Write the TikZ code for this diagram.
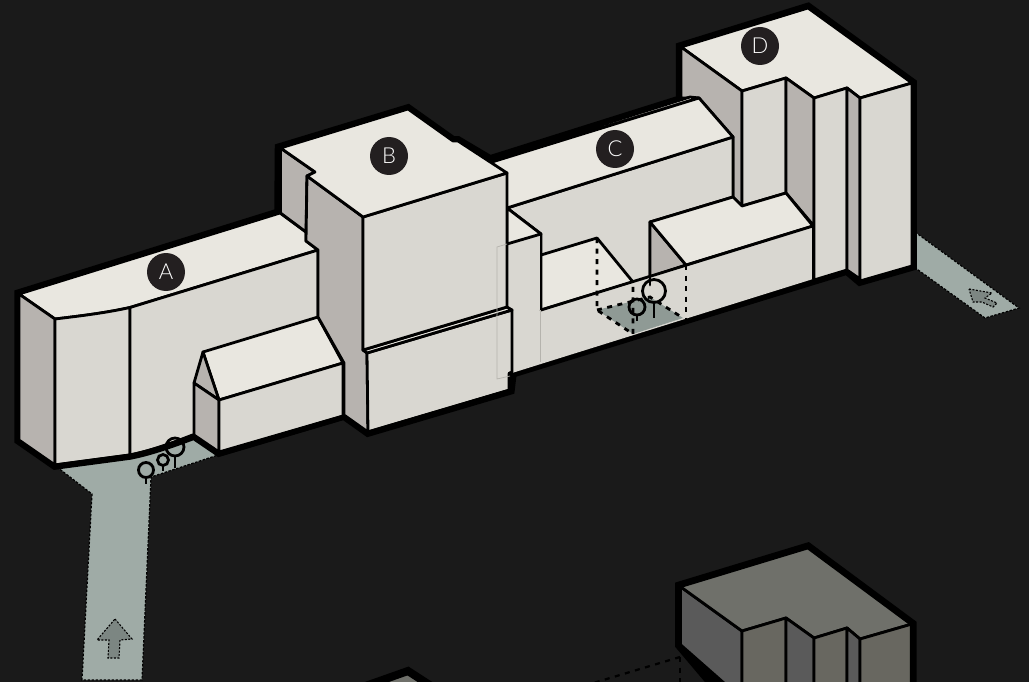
\documentclass[tikz,border=0pt]{standalone}
\usepackage{fontspec}
\setmainfont{Lato}[UprightFont=* Light]
\definecolor{bgc}{HTML}{1A1A1A}
\definecolor{roofc}{HTML}{E9E7E0}
\definecolor{frontc}{HTML}{D9D7D1}
\definecolor{sidec}{HTML}{B7B3AF}
\definecolor{pathc}{HTML}{9FABA6}
\definecolor{arrowc}{HTML}{7C8682}
\definecolor{badgec}{HTML}{231F20}
\definecolor{droofc}{HTML}{6F706A}
\definecolor{dfrontc}{HTML}{686760}
\definecolor{dsidec}{HTML}{5A5A5A}
\definecolor{faintc}{HTML}{B5B3AD}
\tikzset{
  edge/.style={draw=black,line width=2.8pt,line join=round,line cap=round},
  roof/.style={edge,fill=roofc},
  front/.style={edge,fill=frontc},
  side/.style={edge,fill=sidec},
  droof/.style={edge,fill=droofc},
  dfront/.style={edge,fill=dfrontc},
  dside/.style={edge,fill=dsidec},
  outline/.style={draw=black,line width=9.5pt,line join=miter,miter limit=3,fill=black},
  groundpath/.style={fill=pathc,draw=black,line width=1.2pt,dash pattern=on 2.5pt off 1.5pt},
  groundarrow/.style={fill=arrowc,draw=black,line width=1.1pt,dash pattern=on 2pt off 1.5pt},
  hidden/.style={draw=black,line width=2.8pt,dash pattern=on 5pt off 5.5pt},
  faint/.style={draw=faintc,line width=0.7pt},
  tree/.style={draw=black,line width=2.8pt},
  badge/.style={circle,fill=badgec,draw=none,minimum size=38pt,inner sep=0pt,text=white,font=\fontsize{22}{22}\selectfont}
}
\begin{document}
\begin{tikzpicture}[x=1pt,y=-1pt]
\useasboundingbox (0,0) rectangle (1029,682);
\fill[bgc] (0,0) rectangle (1029,682);
\clip (0,0) rectangle (1029,682);
% ground paths
\path[groundpath] (57,467) -- (92,494) -- (82,680) -- (142,680) -- (151,477) -- (218,455) -- (194,436) -- (130,455) -- cycle;
\path[groundarrow] (115,619) -- (132,639) -- (120,640) -- (119,658) -- (108,658) -- (109,640) -- (97,640) -- cycle;
\path[groundpath] (915,232) -- (914,267) -- (985,318) -- (1019,308) -- cycle;
\path[groundarrow] (969,289) -- (992,293) -- (985,298) -- (997,303) -- (993,307) -- (982,302) -- (973,302) -- cycle;
% silhouette
\path[outline] (19,294) -- (279,213) -- (279.5,148) -- (408,109) -- (453,141) -- (458,141) -- (490,160) -- (690,97) -- (680.5,97) -- (680.5,47) -- (808,7.5) -- (912,83) -- (912,266) -- (860,281) -- (847,270) -- (814,280) -- (512,373) -- (510,390) -- (368,432) -- (344,415) -- (219,452) -- (194,435) .. controls (170,444) and (150,451) .. (130,455) -- (55,465) -- (19,440) -- cycle;
% D
\path[roof] (681,47) -- (808,8) -- (912,83) -- (860,98) -- (847,88) -- (814,98) -- (786,78) -- (742,91) -- cycle;
\path[side] (681,47) -- (742,91) -- (742,206) -- (733,197) -- (733,137) -- (699,98) -- (681,98) -- cycle;
\path[front] (742,91) -- (786,78) -- (786,193) -- (742,206) -- cycle;
\path[side] (786,78) -- (814,98) -- (814,226) -- (786,193) -- cycle;
\path[front] (814,98) -- (847,88) -- (847,270) -- (814,280) -- cycle;
\path[side] (847,88) -- (860,98) -- (860,279) -- (847,270) -- cycle;
\path[front] (860,98) -- (912,83) -- (912,266) -- (860,281) -- cycle;
% C
\path[roof] (490,160) -- (690,97) -- (699,98) -- (492,162) -- cycle;
\path[front] (507,208) -- (733,137) -- (733,197) -- (650,222) -- (650,290) -- (541,300) -- (541,234) -- cycle;
\path[roof] (492,162) -- (699,98) -- (733,137) -- (507,208) -- cycle;
\path[roof] (541,255) -- (597,238) -- (633,282) -- (541,310) -- cycle;
\path[side] (650,222) -- (686,265) -- (650,277) -- cycle;
\path[roof] (650,222) -- (733,197) -- (742,206) -- (786,193) -- (813,226) -- (686,265) -- cycle;
\fill[frontc] (507,244) -- (541,234) -- (541,310) -- (813,226) -- (813,279) -- (512,373) -- (507,373) -- cycle;
\draw[edge] (541,310) -- (813,226);
\path[roof] (507,208) -- (541,234) -- (507,244) -- cycle;
\draw[edge] (541,234) -- (541,310);
\draw[edge] (813,226) -- (813,279);
\draw[faint] (540,310) -- (540,362);
% C courtyard
\fill[pathc!90!black] (597,310) -- (650,297) -- (683,318) -- (633,334) -- cycle;
\draw[hidden] (597,238) -- (597,310) -- (633,334) -- (633,282);
\draw[hidden] (597,310) -- (650,297) -- (683,318);
\draw[hidden] (686,265) -- (686,318);
\draw[edge] (650,277) -- (650,285);
\draw[tree] (654,291) circle (11.5pt);
\draw[tree] (654,302) -- (654,318);
\draw[tree] (637,307) circle (8pt);
\draw[tree] (637,315) -- (637,321);
% A
\path[roof] (19,294) -- (280,213) -- (306,232) -- (306,241) -- (318,250) -- (130,307.5) .. controls (105,313) and (80,316) .. (55,319) -- cycle;
\path[side] (19,294) -- (55,319) -- (55,465) -- (19,440) -- cycle;
\path[front] (55,319) .. controls (80,316) and (105,313) .. (130,307.5) -- (130,455) -- (55,465) -- cycle;
\path[front] (130,307.5) -- (318,250) -- (318,318) -- (344,416) -- (219,452) -- (194,435) .. controls (170,444) and (150,451) .. (130,455) -- cycle;
\path[roof] (203,352) -- (318,317) -- (343,363) -- (219,400) -- cycle;
\path[side] (203,352) -- (219,400) -- (194,383) -- cycle;
\path[side] (194,383) -- (219,400) -- (219,452) -- (194,435) -- cycle;
\path[front] (219,400) -- (343,363) -- (343,416) -- (219,452) -- cycle;
\draw[line width=5pt,line cap=round] (55,466) -- (130,456) .. controls (150,452) and (170,445) .. (193,436);
\draw[line width=5pt,line cap=round] (219,454) -- (344,417);
\draw[tree] (175,447) circle (9pt);
\draw[tree] (175,456) -- (175,468);
\draw[tree] (163,460) circle (5.5pt);
\draw[tree] (163,465) -- (163,471);
\draw[tree] (146,470) circle (7.5pt);
\draw[tree] (146,477) -- (146,484);
% B
\path[side] (280.5,148) -- (315,172) -- (307,176) -- (306,232) -- (280.5,213) -- cycle;
\path[side] (307,176) -- (363,217) -- (363,350) -- (367,353) -- (368,432) -- (344,415) -- (344,363) -- (318,317) -- (318,250) -- (306,241) -- cycle;
\path[front] (367,353) -- (512,310) -- (512,372) -- (510,373) -- (510,390) -- (368,432) -- cycle;
\path[roof] (363,350) -- (507,307) -- (512,310) -- (367,353) -- cycle;
\path[front] (363,217) -- (507,173) -- (507,307) -- (363,350) -- cycle;
\path[roof] (280.5,148) -- (408,109) -- (453,141) -- (458,141) -- (507,173) -- (363,217) -- (307,176) -- (315,172) -- cycle;
\draw[line width=5pt,line cap=round] (368,433) -- (510,391) -- (510,374);
\draw[faint] (507,244) -- (497,247) -- (497,379) -- (510,376);
% lower block
\path[draw=black,line width=9pt,line join=miter,fill=black] (679.5,586) -- (808,547) -- (912,624) -- (912,700) -- (726,700) -- (679.5,645) -- cycle;
\path[dside] (679.5,586) -- (742,631) -- (742,700) -- (679.5,645) -- cycle;
\path[droof] (679.5,586) -- (808,547) -- (912,624) -- (860,639) -- (847,628) -- (814,638) -- (786,618) -- (742,631) -- cycle;
\path[dfront] (742,631) -- (786,618) -- (786,700) -- (742,700) -- cycle;
\path[dside] (786,618) -- (814,638) -- (814,700) -- (786,700) -- cycle;
\path[dfront] (814,638) -- (847,628) -- (847,700) -- (814,700) -- cycle;
\path[dside] (847,628) -- (860,639) -- (860,700) -- (847,700) -- cycle;
\path[dfront] (860,639) -- (912,624) -- (912,700) -- (860,700) -- cycle;
\draw[draw=black,line width=4.5pt,line join=miter] (679.5,586) -- (808,547) -- (912,624) -- (912,700);
\draw[draw=black,line width=4.5pt] (679.5,586) -- (679.5,645) -- (742,700);
\draw[hidden,line width=2.2pt] (680,657) -- (590,684);
\draw[hidden,line width=2.2pt] (680,657) -- (680,684);
\path[draw=black,line width=8pt,fill=droofc,line join=miter] (340,695) -- (408,671) -- (445,695) -- cycle;
% badges
\node[badge] (a) at (166,272) {A};
\node[badge] (b) at (389,156) {B};
\node[badge] (c) at (615,149) {C};
\node[badge] (d) at (760,46) {D};
\end{tikzpicture}
\end{document}
